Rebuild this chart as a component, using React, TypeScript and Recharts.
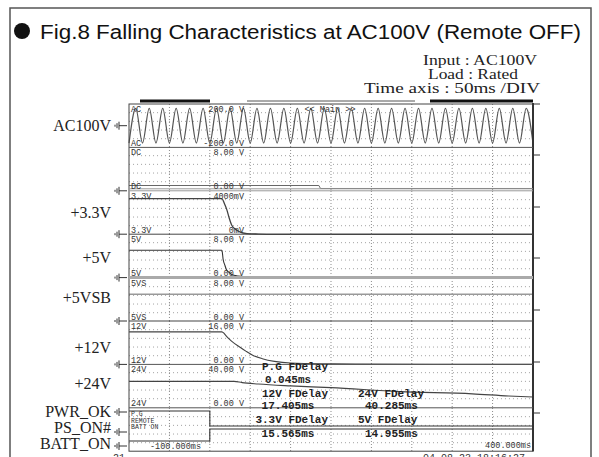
import { LineChart, Line, XAxis, YAxis, CartesianGrid } from "recharts";

type Pt = [number, number];

// time axis: -100ms .. 400ms, 50ms/DIV
const TIME_DOMAIN: [number, number] = [-100, 400];
const TIME_TICKS = [-50, 0, 50, 100, 150, 200, 250, 300, 350];

// AC input, half-cycle peaks (V), 60Hz -> 61 peaks over 500ms
const AC_PEAKS = [
  -160, 160, -160, 160, -160, 160, -160, 160, -160, 160,
  -160, 160, -160, 160, -160, 160, -160, 160, -160, 160,
  -160, 160, -160, 160, -160, 160, -160, 160, -160, 160,
  -160, 160, -160, 160, -160, 160, -160, 160, -160, 160,
  -160, 160, -160, 160, -160, 160, -160, 160, -160, 160,
  -160, 160, -160, 160, -160, 160, -160, 160, -160, 160,
  -160,
];

// [ms, value]
const DC_CH: Pt[] = [[-100, 0.9], [135, 0.9], [137, 0.35], [400, 0.35]];
const V33_CH: Pt[] = [
  [-100, 3300], [15, 3300], [18, 2850], [21, 2285], [24, 1500], [27, 860],
  [32, 450], [37, 240], [46, 80], [60, 30], [80, 0], [400, 0],
];
const V5_CH: Pt[] = [
  [-100, 5], [15, 5], [16.5, 3.3], [18.5, 2.3], [20.5, 1.45], [24, 0.9],
  [27, 0.55], [35, 0.25], [45, 0.1], [60, 0], [400, 0],
];
const V5SB_CH: Pt[] = [[-100, 5], [400, 5]];
const V12_CH: Pt[] = [
  [-100, 12], [15, 12], [18, 11.3], [21, 10.2], [28, 8.3], [37, 6.4], [45, 4.8],
  [53, 3.4], [65, 2.1], [80, 1.1], [100, 0.5], [150, 0.2], [180, 0.1], [400, 0],
];
const V24_CH: Pt[] = [
  [-100, 24], [30, 24], [40, 22.8], [60, 21.5], [100, 19.8], [150, 18.2],
  [235, 14.5], [325, 12.5], [370, 10.5], [400, 9.6],
];
const PG_CH: Pt[] = [[-100, 1], [0.045, 1], [0.045, 0], [400, 0]];
const REMOTE_CH: Pt[] = [[-100, 0], [0, 0], [0, 1], [400, 1]];

const BAND_NAMES = ["AC", "DC", "3.3V", "5V", "5VS", "12V", "24V"];
const BAND_TOP_LABELS = ["200.0 V", "8.00 V", "4000mV", "8.00 V", "8.00 V", "16.00 V", "40.00 V"];
const BAND_BOTTOM_LABELS = ["-200.0 V", "0.00 V", "0mV", "0.00 V", "0.00 V", "0.00 V", "0.00 V"];
const DIGITAL_NAMES = ["P.G", "REMOTE", "BATT ON"];
const CH_LABELS = ["AC100V", "+3.3V", "+5V", "+5VSB", "+12V", "+24V", "PWR_OK", "PS_ON#", "BATT_ON"];
const INFO_LINES = ["Input : AC100V", "Load : Rated", "Time axis : 50ms /DIV"];

const MEASURES_LEFT = ["P.G  FDelay", "0.045ms", "12V  FDelay", "17.405ms", "3.3V  FDelay", "15.565ms"];
const MEASURES_RIGHT = ["", "", "24V  FDelay", "40.285ms", "5V  FDelay", "14.955ms"];

// layout
const SCOPE_L = 129;
const SCOPE_W = 404;
const SCOPE_T = 104;
const BAND_H = 43.4;
const PAD = 2;
const bandTop = (i: number) => SCOPE_T + i * BAND_H;
const LABEL_Y = [131, 218, 263, 303, 353, 389, 417, 433, 449];
const GROUND_Y = [125.7, 190.8, 234.2, 277.6, 321, 364.4, 412, 432, 446];
const RIGHT_TICKS = [104, 155, 207, 258, 310, 362, 413];
const MEASURE_Y = [370, 383, 397, 409, 423, 437];
const INFO_X = [423, 428, 364];
const INFO_Y = [65, 79, 93];
const INFO_W = [114, 90, 176];

const MONO = "'Liberation Mono', 'DejaVu Sans Mono', monospace";
const SERIF = "'Liberation Serif', 'Times New Roman', serif";

interface Trace {
  data: Pt[] | number[];
  color: string;
  width: number;
  curve?: "linear" | "monotone";
  byIndex?: boolean;
}

type GridArgs = { offset: { left: number; top: number; width: number; height: number } };

const verticalGen = ({ offset }: GridArgs) =>
  TIME_TICKS.map(
    (t) => offset.left + ((t - TIME_DOMAIN[0]) / (TIME_DOMAIN[1] - TIME_DOMAIN[0])) * offset.width
  );
const horizontalGen = ({ offset }: GridArgs) =>
  [1, 2, 3, 4].map((k) => offset.top + (offset.height * k) / 5);

function Band({
  top,
  height = BAND_H,
  domain,
  trace,
  grid = true,
}: {
  top: number;
  height?: number;
  domain: [number, number];
  trace?: Trace;
  grid?: boolean;
}) {
  const rows = !trace
    ? [{ t: 0, v: domain[0] }]
    : trace.byIndex
    ? (trace.data as number[]).map((v, i) => ({ i, v }))
    : (trace.data as Pt[]).map(([t, v]) => ({ t, v }));
  return (
    <div style={{ position: "absolute", left: SCOPE_L - PAD, top: top - PAD }}>
      <LineChart
        width={SCOPE_W + PAD * 2}
        height={height + PAD * 2}
        data={rows}
        margin={{ top: PAD, right: PAD, bottom: PAD, left: PAD }}
      >
        {grid && (
          <CartesianGrid
            xAxisId="time"
            vertical={false}
            horizontalCoordinatesGenerator={horizontalGen as any}
            stroke="#a0a0a0"
            strokeDasharray="1 3"
          />
        )}
        {grid && (
          <CartesianGrid
            xAxisId="time"
            horizontal={false}
            verticalCoordinatesGenerator={verticalGen as any}
            stroke="#8a8a8a"
            strokeDasharray="1 2"
          />
        )}
        <XAxis xAxisId="time" type="number" dataKey="t" domain={TIME_DOMAIN} hide />
        <XAxis xAxisId="idx" type="category" dataKey="i" hide />
        <YAxis type="number" domain={domain} hide />
        {trace && (
          <Line
            xAxisId={trace.byIndex ? "idx" : "time"}
            dataKey="v"
            type={trace.curve ?? "linear"}
            stroke={trace.color}
            strokeWidth={trace.width}
            dot={false}
            isAnimationActive={false}
          />
        )}
      </LineChart>
    </div>
  );
}

function Ground({ y }: { y: number }) {
  return (
    <g stroke="#333" strokeWidth={1}>
      <line x1={119} y1={y} x2={127} y2={y} />
      <line x1={119} y1={y - 4} x2={119} y2={y + 4} />
      <line x1={117} y1={y - 2.5} x2={117} y2={y + 2.5} />
      <line x1={115} y1={y - 1} x2={115} y2={y + 1} />
    </g>
  );
}

export default function App() {
  const scopeB = bandTop(8);
  return (
    <div
      style={{
        position: "absolute",
        left: 0,
        top: 0,
        width: 599,
        height: 457,
        background: "#fff",
        overflow: "hidden",
      }}
    >
      <Band top={bandTop(0)} domain={[-200, 200]} trace={{ data: AC_PEAKS, color: "#555", width: 1.2, curve: "monotone", byIndex: true }} />
      <Band top={bandTop(1)} domain={[0, 8]} trace={{ data: DC_CH, color: "#666", width: 1 }} />
      <Band top={bandTop(2)} domain={[0, 4000]} trace={{ data: V33_CH, color: "#444", width: 1.3, curve: "monotone" }} />
      <Band top={bandTop(3)} domain={[0, 8]} trace={{ data: V5_CH, color: "#333", width: 1.1, curve: "monotone" }} />
      <Band top={bandTop(4)} domain={[0, 8]} trace={{ data: V5SB_CH, color: "#999", width: 1.6 }} />
      <Band top={bandTop(5)} domain={[0, 16]} trace={{ data: V12_CH, color: "#444", width: 1.1, curve: "monotone" }} />
      <Band top={bandTop(6)} domain={[0, 40]} trace={{ data: V24_CH, color: "#444", width: 1.1, curve: "monotone" }} />
      <Band top={bandTop(7)} domain={[0, 1]} />
      <Band top={411} height={15} domain={[0, 1]} grid={false} trace={{ data: PG_CH, color: "#333", width: 1.1 }} />
      <Band top={429} height={12} domain={[0, 1]} grid={false} trace={{ data: REMOTE_CH, color: "#333", width: 1.1 }} />

      <svg width={599} height={457} style={{ position: "absolute", left: 0, top: 0, pointerEvents: "none" }}>
        {/* outer frame */}
        <path d="M10,460 V8 H591 V460" fill="none" stroke="#555" strokeWidth={1.5} />

        {/* title */}
        <circle cx={22} cy={31} r={8} fill="#111" />
        <text x={40} y={39} fontFamily="'Liberation Sans', Arial, sans-serif" fontSize={20} fill="#111" textLength={541} lengthAdjust="spacingAndGlyphs">
          Fig.8 Falling Characteristics at AC100V (Remote OFF)
        </text>
        <g fontFamily={SERIF} fontSize={14.5} fill="#222">
          {INFO_LINES.map((s, i) => (
            <text key={s} x={INFO_X[i]} y={INFO_Y[i]} textLength={INFO_W[i]} lengthAdjust="spacingAndGlyphs">{s}</text>
          ))}
        </g>

        {/* channel names */}
        <g fontFamily={SERIF} fontSize={16} fill="#222" textAnchor="end">
          {CH_LABELS.map((s, i) => (
            <text key={s} x={111} y={LABEL_Y[i]}>{s}</text>
          ))}
        </g>
        {GROUND_Y.map((y) => (
          <Ground key={y} y={y} />
        ))}

        {/* scope header bars */}
        <rect x={140} y={99.5} width={70} height={3} fill="#111" />
        <line x1={247} y1={101} x2={415} y2={101} stroke="#555" strokeWidth={1} />
        <rect x={430} y={99.5} width={103} height={3} fill="#111" />

        {/* scope frame and band separators */}
        <rect x={SCOPE_L} y={SCOPE_T} width={SCOPE_W} height={scopeB - SCOPE_T} fill="none" stroke="#444" strokeWidth={1} />
        <line x1={SCOPE_L + SCOPE_W} y1={SCOPE_T - 1} x2={SCOPE_L + SCOPE_W} y2={scopeB} stroke="#333" strokeWidth={2} />
        <line x1={SCOPE_L} y1={bandTop(1)} x2={SCOPE_L + SCOPE_W} y2={bandTop(1)} stroke="#555" strokeWidth={1} />
        <line x1={SCOPE_L} y1={bandTop(2) - 2} x2={SCOPE_L + SCOPE_W} y2={bandTop(2) - 2} stroke="#999" strokeWidth={1} />
        <line x1={SCOPE_L} y1={bandTop(2)} x2={SCOPE_L + SCOPE_W} y2={bandTop(2)} stroke="#999" strokeWidth={1} />
        <line x1={SCOPE_L} y1={bandTop(3)} x2={SCOPE_L + SCOPE_W} y2={bandTop(3)} stroke="#444" strokeWidth={1} />
        <line x1={SCOPE_L} y1={bandTop(4)} x2={SCOPE_L + SCOPE_W} y2={bandTop(4)} stroke="#aaa" strokeWidth={3} />
        <line x1={SCOPE_L} y1={bandTop(5)} x2={SCOPE_L + SCOPE_W} y2={bandTop(5)} stroke="#444" strokeWidth={1.2} />
        <line x1={SCOPE_L} y1={bandTop(6)} x2={SCOPE_L + SCOPE_W} y2={bandTop(6)} stroke="#555" strokeWidth={1} />
        <line x1={SCOPE_L} y1={bandTop(7)} x2={SCOPE_L + SCOPE_W} y2={bandTop(7)} stroke="#555" strokeWidth={1} />
        {RIGHT_TICKS.map((y) => (
          <line key={y} x1={SCOPE_L + SCOPE_W} y1={y} x2={SCOPE_L + SCOPE_W + 7} y2={y} stroke="#333" strokeWidth={1} />
        ))}

        {/* small scope labels */}
        <g fontFamily={MONO} fontSize={8.5} fill="#333">
          {BAND_NAMES.map((n, i) => (
            <g key={n}>
              <text x={131} y={bandTop(i) + 8}>{n}</text>
              <text x={244} y={bandTop(i) + 8} textAnchor="end">{BAND_TOP_LABELS[i]}</text>
              <text x={131} y={bandTop(i + 1) - 1.5}>{n}</text>
              <text x={244} y={bandTop(i + 1) - 1.5} textAnchor="end">{BAND_BOTTOM_LABELS[i]}</text>
            </g>
          ))}
          <text x={330} y={112} textAnchor="middle">{"<< Main >>"}</text>
          <text x={150} y={449}>-100.000ms</text>
          <text x={531} y={448} textAnchor="end">400.000ms</text>
          <text x={113} y={461} fontSize={10}>21</text>
          <text x={423} y={461} fontSize={10}>04-08-23 18:16:27</text>
        </g>
        <g fontFamily={MONO} fontSize={6.5} fill="#333">
          {DIGITAL_NAMES.map((n, i) => (
            <text key={n} x={131} y={416 + i * 6.5}>{n}</text>
          ))}
        </g>

        {/* measurement readouts */}
        <g fontFamily={MONO} fontSize={11} fontWeight="bold" fill="#222">
          {MEASURES_LEFT.map((s, i) =>
            i % 2 === 0 ? (
              <text key={s} x={328} y={MEASURE_Y[i]} textAnchor="end">{s}</text>
            ) : (
              <text key={s} x={288} y={MEASURE_Y[i]} textAnchor="middle">{s}</text>
            )
          )}
          {MEASURES_RIGHT.map((s, i) =>
            s ? (
              <text key={s} x={i % 2 === 0 ? 358 : 365} y={MEASURE_Y[i]}>{s}</text>
            ) : null
          )}
        </g>
      </svg>
    </div>
  );
}
